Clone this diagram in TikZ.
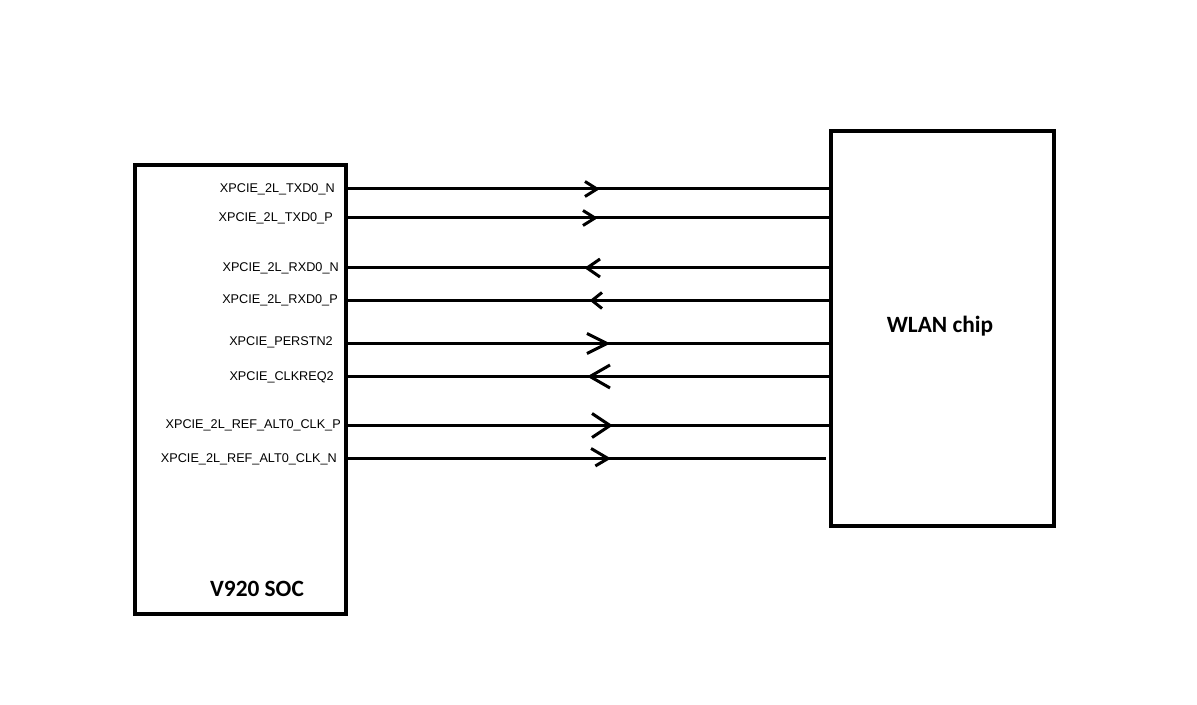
\documentclass[tikz,border=0pt]{standalone}
\usepackage{fontspec}
\setmainfont{Liberation Sans}
\newfontfamily\calibri{Carlito}
\usetikzlibrary{decorations.markings}
\tikzset{
  chipbox/.style={draw, line width=3pt, inner sep=0pt, outer sep=0pt},
  sig/.style n args={3}{line width=2.25pt, postaction={decorate, decoration={markings,
      mark=at position #1 with {\draw[line width=2.25pt, line join=round] (-#2,-#3) -- (0,0) -- (-#2,#3);}}}},
  pinlabel/.style={anchor=east, inner sep=0pt, font=\fontsize{9.5}{11}\selectfont},
  title/.style={font=\calibri\bfseries\fontsize{17.5}{20}\selectfont, inner sep=0pt}
}
\begin{document}
\begin{tikzpicture}[x=0.75pt,y=-0.75pt]
\useasboundingbox[fill=white] (0,0) rectangle (1197,705);
\node[chipbox, minimum width=157.9pt, minimum height=336.75pt] (soc) at (240.25,390) {};
\node[chipbox, minimum width=167.6pt, minimum height=296.25pt] (wlan) at (942.75,328.5) {};
\node[title] (soct) at (257,589) {V920 SOC};
\node[title] (wlant) at (940,326.5) {WLAN chip};
% rows
\coordinate (r1) at (0,189);
\coordinate (r2) at (0,218);
\coordinate (r3) at (0,268);
\coordinate (r4) at (0,300.5);
\coordinate (r5) at (0,343.5);
\coordinate (r6) at (0,376.5);
\coordinate (r7) at (0,425.5);
\coordinate (r8) at (0,458.5);
% labels
\node[pinlabel] (l1) at (335,189.5) {XPCIE\_2L\_TXD0\_N};
\node[pinlabel] (l2) at (333,218) {XPCIE\_2L\_TXD0\_P};
\node[pinlabel] (l3) at (339,268.5) {XPCIE\_2L\_RXD0\_N};
\node[pinlabel] (l4) at (338,300.5) {XPCIE\_2L\_RXD0\_P};
\node[pinlabel] (l5) at (333,342.5) {XPCIE\_PERSTN2};
\node[pinlabel] (l6) at (334,377) {XPCIE\_CLKREQ2};
\node[pinlabel] (l7) at (341,425.5) {XPCIE\_2L\_REF\_ALT0\_CLK\_P};
\node[pinlabel] (l8) at (337,459) {XPCIE\_2L\_REF\_ALT0\_CLK\_N};
% connectors
\draw[sig={188.6pt}{12}{7.5}] (soc.east |- r1) -- (wlan.west |- r1);
\draw[sig={187.1pt}{12}{7.5}] (soc.east |- r2) -- (wlan.west |- r2);
\draw[sig={183pt}{13}{9}] (wlan.west |- r3) -- (soc.east |- r3);
\draw[sig={179.25pt}{10}{8}] (wlan.west |- r4) -- (soc.east |- r4);
\draw[sig={196.1pt}{20}{10}] (soc.east |- r5) -- (wlan.west |- r5);
\draw[sig={180.75pt}{20}{11.5}] (wlan.west |- r6) -- (soc.east |- r6);
\draw[sig={198.4pt}{18}{12}] (soc.east |- r7) -- (wlan.west |- r7);
\draw[sig={196.9pt}{17}{10}, shorten >=3.75pt] (soc.east |- r8) -- (wlan.west |- r8);
\end{tikzpicture}
\end{document}
